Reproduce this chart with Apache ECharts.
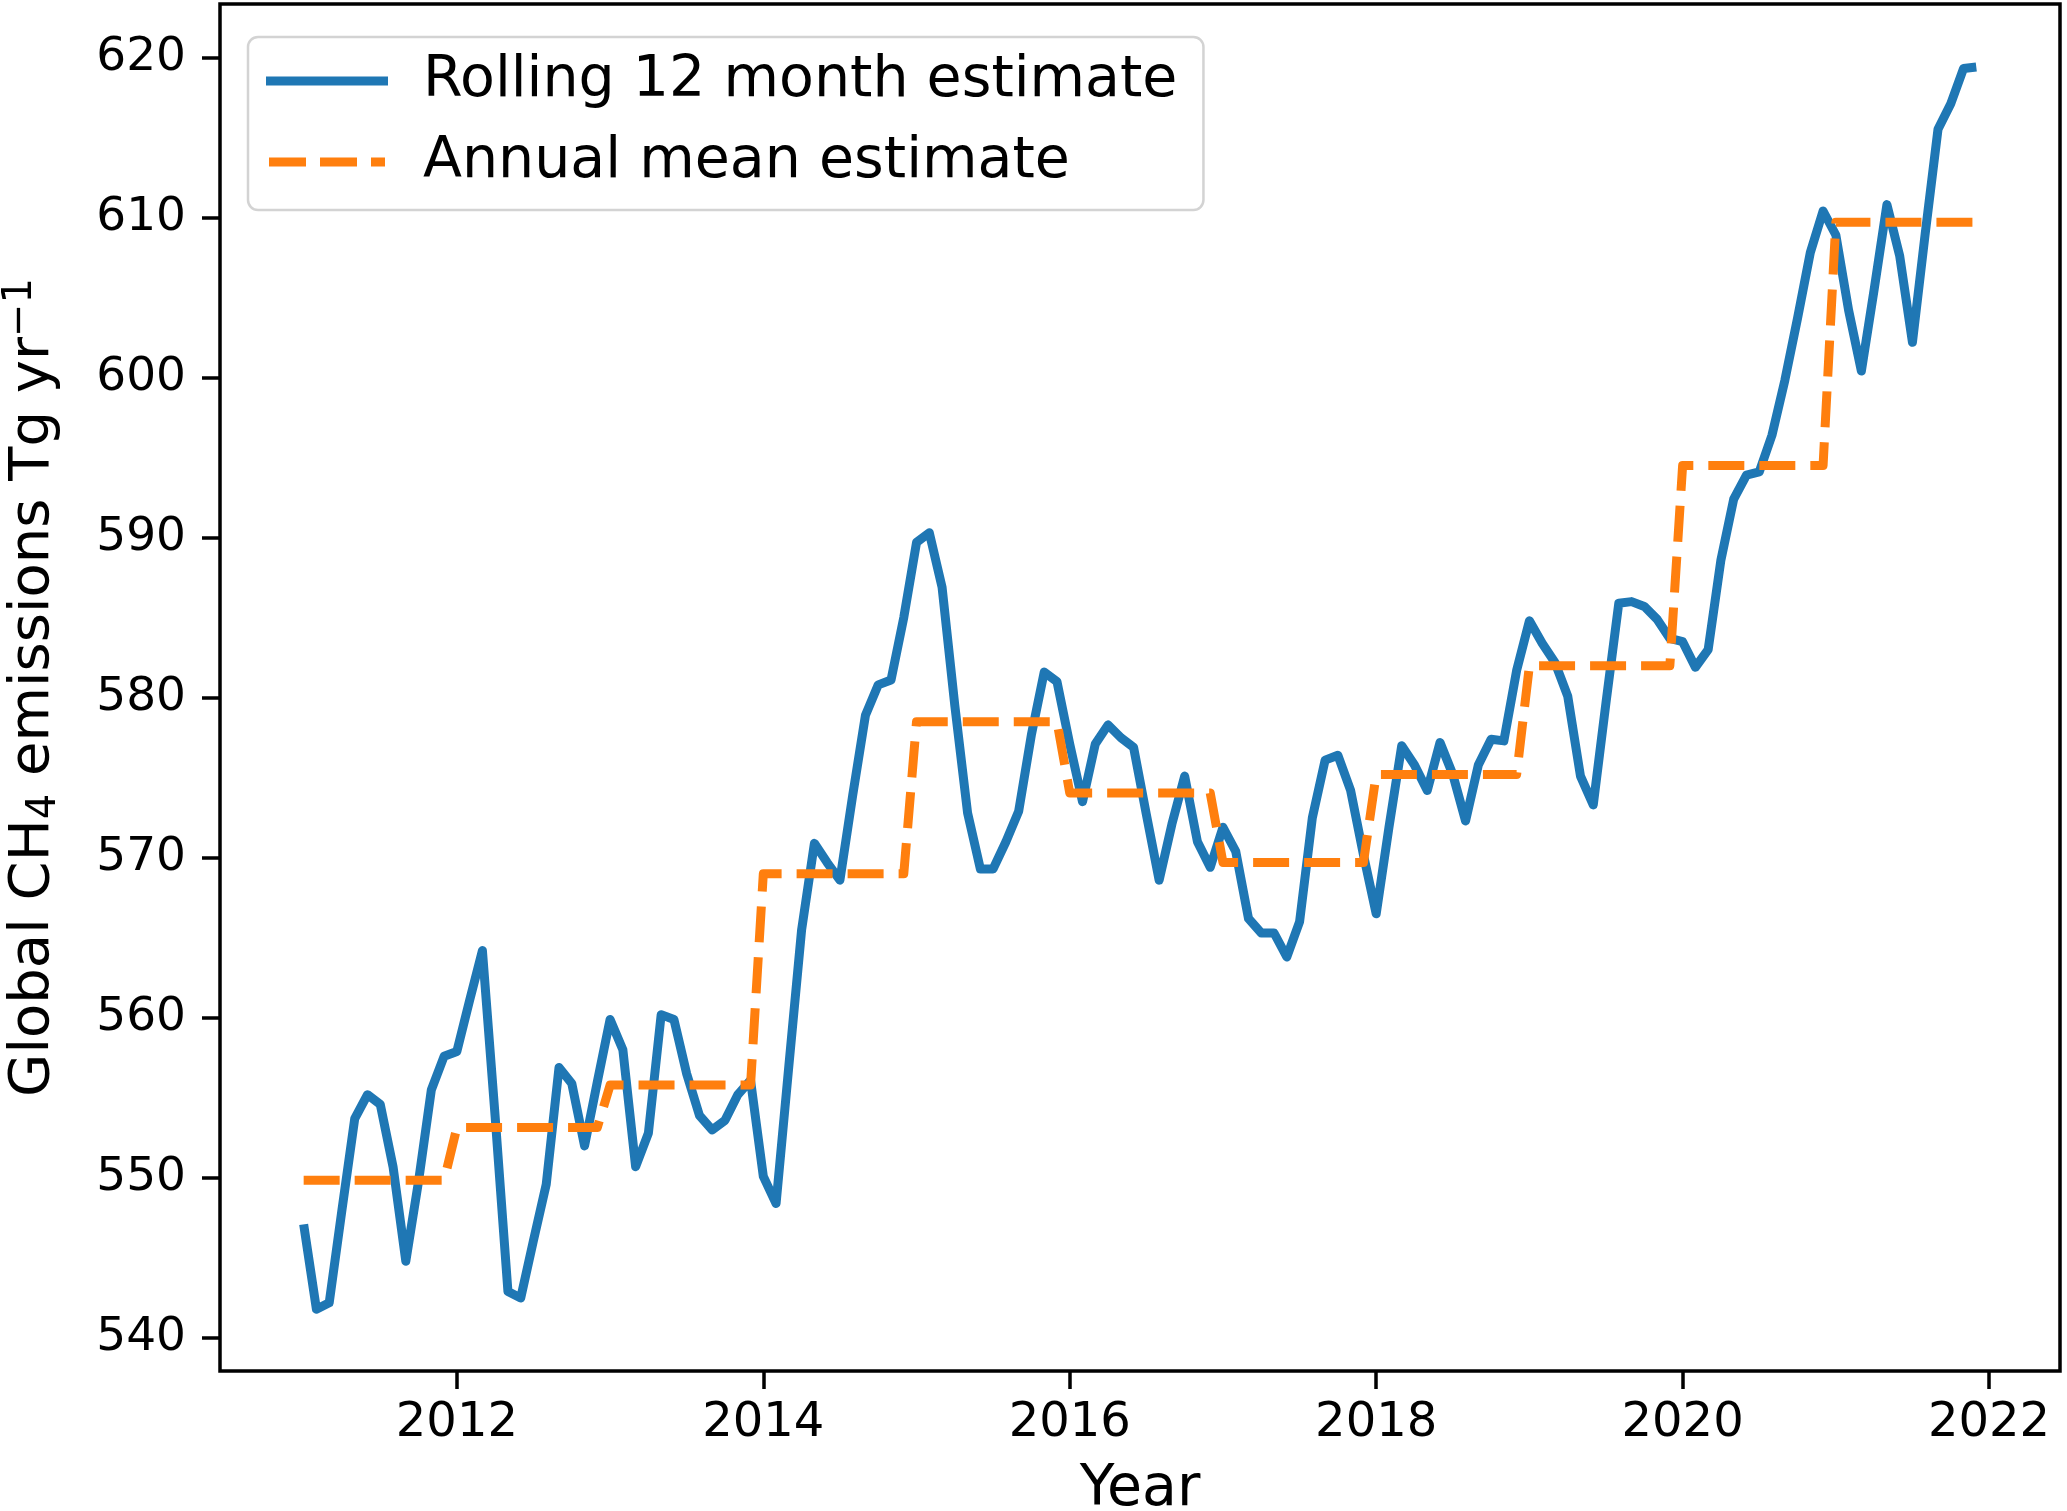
<!DOCTYPE html>
<html>
<head>
<meta charset="utf-8">
<script src="https://cdn.jsdelivr.net/npm/echarts@6/dist/echarts.min.js"></script>
<style>
  html, body { margin: 0; padding: 0; background: #ffffff; }
  #chart { width: 2067px; height: 1511px; }
</style>
</head>
<body>
<div id="chart"></div>
<script>
// ---- Data ----
const startYear = 2011;               // first monthly value = Jan 2011
const rollingMonthly = [
  // 2011
  547.1, 541.8, 542.2, 548.0, 553.7, 555.2, 554.6, 550.7, 544.8, 549.8, 555.5, 557.6,
  // 2012
  557.9, 561.1, 564.2, 553.8, 542.9, 542.5, 546.1, 549.6, 556.9, 555.9, 552.0, 556.0,
  // 2013
  559.9, 558.0, 550.7, 552.8, 560.2, 559.9, 556.5, 553.9, 553.0, 553.6, 555.2, 556.1,
  // 2014
  550.1, 548.4, 557.0, 565.5, 570.9, 569.7, 568.6, 573.9, 578.9, 580.8, 581.1, 585.0,
  // 2015
  589.7, 590.3, 586.9, 579.5, 572.8, 569.3, 569.3, 571.0, 572.9, 577.7, 581.6, 581.0,
  // 2016
  577.1, 573.5, 577.1, 578.3, 577.5, 576.9, 572.7, 568.6, 572.1, 575.1, 571.0, 569.4,
  // 2017
  571.9, 570.4, 566.2, 565.3, 565.3, 563.8, 566.0, 572.5, 576.1, 576.4, 574.2, 570.2,
  // 2018
  566.5, 571.9, 577.0, 575.8, 574.2, 577.2, 575.2, 572.3, 575.8, 577.4, 577.3, 581.7,
  // 2019
  584.8, 583.4, 582.2, 580.1, 575.1, 573.3, 579.7, 585.9, 586.0, 585.7, 584.9, 583.7,
  // 2020
  583.5, 581.9, 583.0, 588.6, 592.4, 593.9, 594.1, 596.4, 599.8, 603.7, 607.8, 610.4,
  // 2021
  608.9, 604.2, 600.4, 605.5, 610.8, 607.6, 602.2, 609.0, 615.5, 617.1, 619.3, 619.4
];
const annualYears = [2011, 2012, 2013, 2014, 2015, 2016, 2017, 2018, 2019, 2020, 2021];
const annualMeans = [549.85, 553.15, 555.8, 569.0, 578.5, 574.05, 569.7, 575.2, 582.0, 594.5, 609.7];
const xTickValues = [2012, 2014, 2016, 2018, 2020, 2022];
const yTickValues = [540, 550, 560, 570, 580, 590, 600, 610, 620];
const seriesNames = ['Rolling 12 month estimate', 'Annual mean estimate'];

// ---- Build series data ----
const rollingData = rollingMonthly.map((v, i) => [startYear + i / 12, v]);
const annualData = [];
annualYears.forEach((yr, k) => {
  for (let m = 0; m < 12; m++) annualData.push([yr + m / 12, annualMeans[k]]);
});

const FONT = 'DejaVu Sans';
const chart = echarts.init(document.getElementById('chart'), null, { renderer: 'canvas' });
chart.setOption({
  animation: false,
  backgroundColor: '#ffffff',
  grid: {
    left: 220, right: 7, top: 4, bottom: 140,
    containLabel: false, outerBoundsMode: 'none',
    show: true, borderColor: '#000000', borderWidth: 3.5, backgroundColor: 'transparent'
  },
  legend: {
    orient: 'vertical',
    left: 248, top: 37,
    itemWidth: 122, itemHeight: 9, itemGap: 21,
    padding: [14, 26, 18, 18],
    backgroundColor: 'rgba(255,255,255,0.8)',
    borderColor: '#d3d3d3', borderWidth: 2.5, borderRadius: 10,
    textStyle: { fontFamily: FONT, fontSize: 57, lineHeight: 60, color: '#000000', padding: [0, 0, 0, 30] },
    data: [
      { name: seriesNames[0], icon: 'rect' },
      { name: seriesNames[1], icon: 'path://M0,0H37V9H0Z M51,0H88V9H51Z M102,0H116V9H102Z' }
    ]
  },
  xAxis: {
    type: 'value',
    min: 2010.454, max: 2022.463,
    name: 'Year', nameLocation: 'middle', nameGap: 91,
    nameTextStyle: { fontFamily: FONT, fontSize: 57, color: '#000000' },
    axisLine: { show: false },
    axisTick: { show: true, inside: false, length: 18, customValues: xTickValues,
                lineStyle: { color: '#000000', width: 3.5 } },
    axisLabel: { customValues: xTickValues, margin: 29, fontFamily: FONT, fontSize: 48, color: '#000000',
                 formatter: v => String(v) },
    splitLine: { show: false }
  },
  yAxis: {
    type: 'value',
    min: 537.94, max: 623.33,
    name: '{t|Global CH}{sub|4}{t| emissions Tg yr}{sup|−1}',
    nameLocation: 'middle', nameGap: 155,
    nameTextStyle: {
      fontFamily: FONT, fontSize: 56, color: '#000000',
      rich: {
        t: { fontFamily: FONT, fontSize: 56, lineHeight: 64, color: '#000000' },
        sub: { fontFamily: FONT, fontSize: 40, lineHeight: 34, verticalAlign: 'bottom', color: '#000000' },
        sup: { fontFamily: FONT, fontSize: 40, lineHeight: 34, verticalAlign: 'top', color: '#000000' }
      }
    },
    axisLine: { show: false },
    axisTick: { show: true, inside: false, length: 18, customValues: yTickValues,
                lineStyle: { color: '#000000', width: 3.5 } },
    axisLabel: { customValues: yTickValues, margin: 34, fontFamily: FONT, fontSize: 47, color: '#000000' },
    splitLine: { show: false }
  },
  series: [
    {
      name: seriesNames[0], type: 'line', data: rollingData,
      symbol: 'none', showSymbol: false,
      lineStyle: { color: '#1f77b4', width: 9, cap: 'butt', join: 'round' },
      itemStyle: { color: '#1f77b4' },
      z: 2
    },
    {
      name: seriesNames[1], type: 'line', data: annualData,
      symbol: 'none', showSymbol: false,
      lineStyle: { color: '#ff7f0e', width: 9, type: [36, 15], cap: 'butt', join: 'round' },
      itemStyle: { color: '#ff7f0e' },
      z: 3
    }
  ]
});
</script>
</body>
</html>
